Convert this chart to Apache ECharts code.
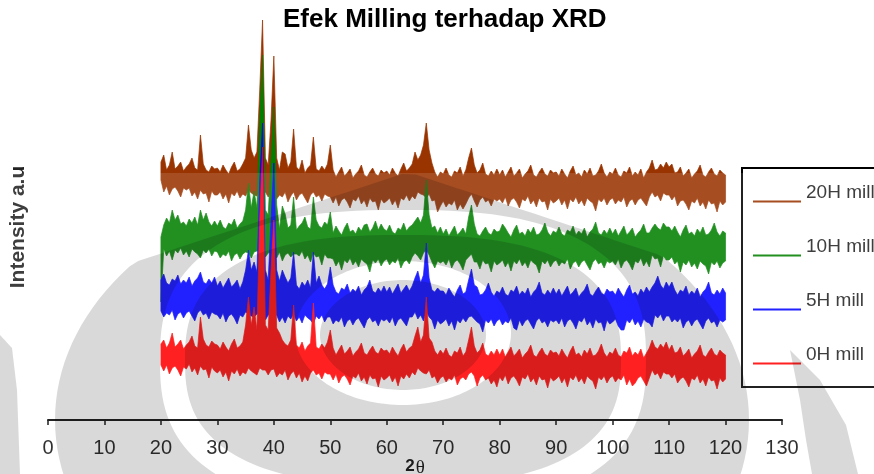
<!DOCTYPE html>
<html>
<head>
<meta charset="utf-8">
<script src="https://cdn.jsdelivr.net/npm/echarts@6/dist/echarts.min.js"></script>
<style>
  html, body { margin: 0; padding: 0; background: #fff; }
  #chart { width: 874px; height: 474px; }
</style>
</head>
<body>
<div id="chart"></div>
<script>
// 2-theta sampling (0.5 deg)
const twoTheta = [
  20, 20.5, 21, 21.5, 22, 22.5, 23, 23.5, 24, 24.5, 25, 25.5, 26, 26.5, 27, 27.5, 28, 28.5, 29, 29.5,
  30, 30.5, 31, 31.5, 32, 32.5, 33, 33.5, 34, 34.5, 35, 35.5, 36, 36.5, 37, 37.5, 38, 38.5, 39, 39.5,
  40, 40.5, 41, 41.5, 42, 42.5, 43, 43.5, 44, 44.5, 45, 45.5, 46, 46.5, 47, 47.5, 48, 48.5, 49, 49.5,
  50, 50.5, 51, 51.5, 52, 52.5, 53, 53.5, 54, 54.5, 55, 55.5, 56, 56.5, 57, 57.5, 58, 58.5, 59, 59.5,
  60, 60.5, 61, 61.5, 62, 62.5, 63, 63.5, 64, 64.5, 65, 65.5, 66, 66.5, 67, 67.5, 68, 68.5, 69, 69.5,
  70, 70.5, 71, 71.5, 72, 72.5, 73, 73.5, 74, 74.5, 75, 75.5, 76, 76.5, 77, 77.5, 78, 78.5, 79, 79.5,
  80, 80.5, 81, 81.5, 82, 82.5, 83, 83.5, 84, 84.5, 85, 85.5, 86, 86.5, 87, 87.5, 88, 88.5, 89, 89.5,
  90, 90.5, 91, 91.5, 92, 92.5, 93, 93.5, 94, 94.5, 95, 95.5, 96, 96.5, 97, 97.5, 98, 98.5, 99, 99.5,
  100, 100.5, 101, 101.5, 102, 102.5, 103, 103.5, 104, 104.5, 105, 105.5, 106, 106.5, 107, 107.5, 108, 108.5, 109, 109.5,
  110, 110.5, 111, 111.5, 112, 112.5, 113, 113.5, 114, 114.5, 115, 115.5, 116, 116.5, 117, 117.5, 118, 118.5, 119, 119.5,
  120,
];

// intensity (a.u., patterns already offset): upper / lower edge of each noisy trace
const hi20H = [
  258, 265, 250, 255, 268, 251, 254, 258, 249, 253, 256, 262, 252, 250, 285, 256, 250, 248, 254, 251,
  252, 248, 255, 250, 246, 253, 258, 249, 251, 256, 262, 295, 270, 262, 268, 330, 400, 262, 255, 300,
  364, 262, 250, 268, 266, 252, 258, 291, 253, 250, 260, 247, 252, 255, 283, 251, 249, 254, 250, 256,
  275, 250, 243, 248, 253, 244, 247, 251, 242, 246, 249, 255, 245, 243, 248, 252, 246, 244, 250, 247,
  249, 245, 252, 247, 244, 251, 257, 249, 252, 256, 268, 260, 265, 275, 297, 270, 257, 248, 243, 248,
  246, 252, 245, 243, 249, 247, 253, 244, 250, 262, 272, 255, 247, 250, 257, 246, 244, 249, 245, 251,
  245, 250, 243, 248, 253, 244, 247, 251, 242, 246, 249, 255, 245, 243, 248, 252, 246, 244, 250, 247,
  248, 244, 251, 246, 242, 249, 254, 245, 247, 243, 250, 246, 252, 244, 245, 249, 256, 247, 243, 248,
  246, 252, 245, 243, 249, 247, 253, 244, 248, 245, 251, 242, 248, 252, 260, 250, 251, 256, 252, 258,
  253, 256, 247, 248, 253, 244, 247, 251, 242, 246, 249, 255, 245, 243, 248, 252, 246, 244, 250, 247,
  245,
];
const lo20H = [
  240, 228, 234, 225, 231, 233, 229, 223, 232, 230, 232, 224, 228, 221, 230, 226, 227, 218, 229, 225,
  225, 228, 221, 226, 217, 227, 224, 229, 222, 226, 224, 230, 227, 225, 224, 230, 228, 228, 223, 228,
  229, 221, 225, 223, 228, 218, 224, 228, 220, 225, 227, 222, 217, 225, 228, 223, 225, 219, 226, 224,
  223, 217, 223, 214, 220, 222, 218, 212, 221, 219, 224, 216, 220, 213, 222, 218, 219, 210, 221, 217,
  219, 222, 215, 220, 212, 222, 220, 225, 219, 224, 221, 228, 226, 225, 222, 226, 219, 220, 208, 214,
  219, 213, 217, 215, 220, 210, 216, 211, 216, 222, 226, 219, 213, 220, 223, 218, 220, 214, 221, 219,
  221, 217, 223, 214, 220, 222, 218, 212, 221, 219, 224, 216, 220, 213, 222, 218, 219, 210, 221, 217,
  219, 222, 215, 220, 211, 221, 218, 223, 216, 220, 214, 222, 219, 217, 209, 221, 218, 222, 215, 220,
  222, 216, 220, 218, 223, 213, 219, 221, 215, 220, 222, 218, 214, 223, 228, 223, 225, 219, 227, 225,
  225, 220, 224, 214, 219, 220, 216, 210, 219, 217, 222, 214, 218, 211, 220, 216, 217, 208, 219, 215,
  218,
];
const hi10H = [
  183, 195, 202, 197, 210, 200, 205, 196, 198, 194, 201, 197, 203, 195, 210, 200, 207, 198, 194, 199,
  194, 200, 193, 191, 197, 195, 201, 192, 196, 199, 210, 237, 212, 229, 212, 300, 365, 210, 205, 260,
  313, 215, 191, 214, 206, 192, 195, 223, 190, 194, 197, 203, 193, 191, 223, 200, 194, 192, 198, 195,
  208, 187, 194, 189, 185, 192, 197, 188, 190, 186, 193, 189, 195, 196, 188, 192, 199, 190, 196, 191,
  189, 195, 188, 186, 192, 190, 197, 189, 193, 195, 199, 203, 197, 205, 240, 205, 192, 194, 187, 193,
  186, 191, 184, 189, 194, 185, 188, 192, 186, 203, 215, 196, 186, 184, 189, 193, 187, 185, 191, 188,
  189, 196, 192, 187, 183, 190, 195, 186, 188, 184, 191, 187, 193, 185, 186, 190, 197, 188, 184, 189,
  187, 193, 186, 184, 190, 188, 194, 185, 189, 186, 192, 183, 188, 191, 198, 187, 185, 190, 186, 192,
  186, 191, 184, 189, 194, 185, 188, 192, 183, 187, 190, 196, 187, 187, 192, 196, 192, 190, 197, 193,
  193, 189, 194, 188, 183, 190, 195, 186, 188, 184, 191, 187, 193, 185, 186, 190, 197, 188, 184, 189,
  187,
];
const lo10H = [
  118, 171, 164, 169, 160, 170, 167, 172, 165, 169, 163, 171, 168, 166, 162, 170, 167, 171, 164, 169,
  168, 162, 166, 164, 169, 159, 165, 167, 161, 166, 168, 167, 162, 168, 169, 170, 168, 163, 167, 168,
  168, 162, 168, 159, 165, 167, 163, 166, 166, 164, 169, 161, 165, 158, 167, 163, 164, 155, 166, 162,
  162, 161, 154, 159, 150, 160, 157, 162, 155, 159, 153, 161, 158, 156, 148, 160, 157, 161, 154, 159,
  161, 155, 159, 157, 162, 152, 158, 160, 156, 163, 167, 164, 160, 167, 170, 165, 158, 152, 159, 157,
  159, 155, 161, 152, 158, 160, 156, 150, 160, 163, 166, 158, 158, 151, 160, 156, 157, 148, 159, 155,
  157, 160, 153, 158, 149, 159, 156, 161, 154, 158, 152, 160, 157, 155, 147, 159, 156, 160, 153, 158,
  160, 154, 158, 156, 161, 151, 157, 159, 153, 158, 160, 155, 150, 158, 161, 156, 158, 152, 159, 157,
  159, 155, 161, 152, 158, 160, 156, 150, 159, 157, 162, 154, 159, 153, 165, 161, 162, 153, 164, 160,
  160, 163, 156, 159, 148, 158, 155, 160, 153, 157, 151, 159, 156, 154, 146, 158, 155, 159, 152, 157,
  159,
];
const hi5H = [
  140, 146, 137, 135, 141, 139, 145, 136, 140, 137, 143, 134, 139, 142, 148, 138, 136, 141, 137, 143,
  134, 139, 132, 137, 142, 133, 136, 140, 131, 138, 150, 170, 150, 158, 148, 240, 297, 150, 140, 200,
  257, 150, 139, 150, 143, 137, 142, 168, 135, 131, 138, 134, 140, 132, 168, 137, 144, 135, 131, 136,
  153, 135, 128, 126, 132, 130, 136, 127, 131, 128, 134, 125, 130, 133, 140, 129, 127, 132, 128, 134,
  128, 133, 126, 131, 136, 127, 131, 135, 129, 134, 142, 149, 137, 145, 177, 142, 130, 128, 132, 129,
  129, 125, 132, 127, 123, 130, 135, 126, 128, 140, 151, 135, 133, 125, 126, 130, 137, 128, 124, 129,
  127, 133, 126, 124, 130, 128, 134, 125, 129, 126, 132, 123, 128, 131, 138, 127, 125, 130, 126, 132,
  126, 131, 124, 129, 134, 125, 128, 132, 123, 127, 130, 136, 126, 124, 129, 133, 127, 125, 131, 128,
  129, 125, 132, 127, 123, 130, 135, 126, 128, 124, 131, 127, 133, 128, 133, 137, 144, 135, 131, 138,
  133, 138, 130, 125, 130, 128, 134, 125, 129, 126, 132, 123, 128, 131, 138, 127, 125, 130, 126, 132,
  127,
];
const lo5H = [
  109, 103, 107, 105, 110, 100, 106, 108, 102, 107, 109, 104, 99, 107, 110, 105, 107, 101, 108, 106,
  105, 101, 107, 98, 104, 106, 102, 96, 105, 103, 108, 106, 104, 103, 106, 108, 107, 100, 105, 106,
  106, 105, 98, 103, 97, 104, 101, 106, 99, 103, 97, 105, 102, 100, 96, 104, 101, 105, 98, 103,
  103, 96, 100, 98, 103, 93, 99, 101, 95, 100, 102, 97, 92, 100, 103, 98, 100, 94, 101, 99,
  101, 97, 103, 94, 100, 102, 98, 94, 103, 103, 108, 101, 105, 99, 109, 103, 100, 91, 100, 96,
  98, 101, 94, 99, 90, 100, 97, 102, 98, 103, 104, 101, 98, 96, 88, 100, 97, 101, 94, 99,
  101, 95, 99, 97, 102, 92, 90, 100, 94, 99, 101, 96, 91, 99, 102, 97, 99, 93, 100, 98,
  100, 96, 102, 93, 99, 101, 97, 91, 100, 98, 103, 95, 99, 92, 101, 97, 98, 89, 100, 96,
  98, 101, 94, 90, 90, 100, 97, 102, 95, 99, 93, 101, 98, 97, 93, 105, 102, 106, 99, 104,
  104, 98, 101, 98, 102, 92, 98, 100, 94, 99, 101, 96, 91, 99, 102, 97, 99, 93, 100, 98,
  100,
];
const hi0H = [
  76, 80, 72, 77, 87, 73, 76, 80, 71, 75, 78, 84, 74, 72, 103, 81, 75, 73, 79, 76,
  75, 71, 78, 73, 69, 76, 81, 72, 74, 78, 95, 123, 95, 113, 90, 200, 273, 95, 90, 150,
  200, 92, 87, 80, 76, 74, 80, 115, 75, 72, 78, 69, 74, 77, 117, 73, 71, 76, 72, 78,
  90, 72, 65, 70, 75, 66, 69, 73, 64, 68, 71, 77, 67, 65, 70, 74, 68, 66, 72, 69,
  70, 66, 73, 68, 64, 71, 76, 68, 72, 74, 84, 93, 78, 85, 123, 82, 78, 69, 65, 70,
  66, 72, 65, 63, 69, 67, 73, 64, 68, 80, 93, 74, 67, 70, 77, 66, 64, 69, 65, 71,
  65, 71, 63, 68, 73, 64, 67, 71, 62, 66, 69, 75, 65, 63, 68, 72, 66, 64, 70, 67,
  68, 64, 71, 66, 62, 69, 74, 65, 67, 63, 70, 66, 72, 64, 65, 69, 76, 67, 63, 68,
  66, 72, 65, 63, 69, 67, 73, 64, 68, 65, 71, 62, 67, 72, 80, 73, 71, 76, 72, 78,
  70, 75, 67, 68, 73, 64, 67, 71, 62, 66, 69, 75, 65, 63, 68, 72, 66, 64, 70, 67,
  65,
];
const lo0H = [
  55, 49, 55, 46, 52, 54, 50, 44, 53, 51, 56, 48, 52, 45, 54, 50, 51, 42, 53, 49,
  47, 50, 43, 48, 39, 49, 46, 51, 44, 48, 46, 52, 49, 47, 45, 52, 50, 50, 45, 50,
  51, 43, 47, 45, 50, 40, 46, 49, 42, 47, 38, 44, 39, 47, 50, 45, 47, 41, 48, 46,
  46, 40, 46, 37, 43, 45, 41, 35, 44, 42, 47, 39, 43, 36, 45, 41, 42, 33, 44, 40,
  42, 45, 38, 43, 34, 44, 41, 46, 42, 48, 45, 52, 49, 47, 46, 50, 42, 44, 37, 42,
  44, 38, 42, 40, 45, 35, 41, 43, 40, 46, 48, 44, 34, 42, 45, 40, 42, 36, 40, 33,
  43, 39, 45, 36, 42, 44, 40, 34, 43, 41, 46, 38, 42, 35, 44, 40, 41, 32, 43, 39,
  41, 44, 37, 42, 33, 43, 40, 45, 38, 42, 36, 44, 41, 39, 31, 43, 40, 44, 37, 42,
  44, 38, 42, 40, 45, 35, 41, 34, 37, 42, 44, 39, 34, 42, 50, 45, 47, 41, 48, 46,
  46, 42, 46, 37, 41, 43, 39, 33, 42, 40, 45, 37, 41, 34, 43, 39, 40, 31, 42, 38,
  41,
];

const seriesNames = ['20H mill', '10H mill', '5H mill', '0H mill'];
const seriesColors = ['#993300', '#008000', '#0000ff', '#ff0000'];
const seriesHi = [hi20H, hi10H, hi5H, hi0H];
const seriesLo = [lo20H, lo10H, lo5H, lo0H];
const xTicks = [0, 130, 10];

const FONT = 'Liberation Sans, Arial, sans-serif';

// band between upper and lower edge of each noisy trace
function bandSeries(name, color, hi, lo) {
  return {
    name,
    type: 'custom',
    coordinateSystem: 'cartesian2d',
    silent: true,
    itemStyle: { color },
    data: twoTheta.map((t, i) => [t, hi[i], lo[i]]),
    renderItem(params, api) {
      if (params.dataIndex !== 0) return null;
      const top = twoTheta.map((t, i) => api.coord([t, hi[i]]));
      const bottom = twoTheta.map((t, i) => api.coord([t, lo[i]])).reverse();
      return {
        type: 'polygon',
        shape: { points: top.concat(bottom) },
        style: { fill: color, stroke: color, lineWidth: 0.7 },
      };
    },
  };
}

// watermark lying over the figure (light overlay)
const WM_TOP = 173;
function ovalPts(cx, cy, a, b, p, rev, cone) {
  const pts = [];
  const n = 160;
  for (let k = 0; k <= n; k++) {
    const t = Math.PI / 2 + (rev ? -1 : 1) * (k * 2 * Math.PI) / n;
    const c = Math.cos(t);
    const s = Math.sin(t);
    const x = cx + a * Math.sign(c) * Math.pow(Math.abs(c), 2 / p);
    let y = cy + b * Math.sign(s) * Math.pow(Math.abs(s), 2 / p);
    if (cone) y = Math.max(y, cone[1] + cone[2] * Math.abs(x - cone[0]));
    pts.push([x, Math.max(y, WM_TOP)]);
  }
  return pts;
}
function ringPts(outer, inner, cone) {
  return ovalPts(...outer, false, cone).concat(ovalPts(...inner, true));
}
const grey = 'rgba(0,0,0,0.15)';
const watermark = [
  { type: 'rect', shape: { x: 0, y: WM_TOP, width: 874, height: 474 - WM_TOP }, style: { fill: 'rgba(255,255,255,0.13)' } },
  { type: 'polygon', shape: { points: ringPts([402, 420, 347, 248, 2], [403, 360, 243, 150, 2.6], [408, 172, 0.33]) }, style: { fill: grey } },
  { type: 'polygon', shape: { points: ringPts([403, 360, 218, 125, 2.6], [403, 333, 108, 72, 2]) }, style: { fill: grey } },
  { type: 'polygon', shape: { points: ovalPts(403, 335, 83, 55, 2, false) }, style: { fill: grey } },
  { type: 'polygon', shape: { points: [[0, 335], [12, 348], [17, 390], [20, 474], [0, 474]] }, style: { fill: grey } },
  { type: 'polygon', shape: { points: [[790, 350], [800, 400], [806, 440], [812, 474], [858, 474], [846, 425], [820, 380]] }, style: { fill: grey } },
].map((el) => Object.assign(el, { z: 50, silent: true }));

const chart = echarts.init(document.getElementById('chart'), null, { renderer: 'canvas' });

const option = {
  animation: false,
  backgroundColor: '#fff',
  title: {
    text: 'Efek Milling terhadap XRD',
    left: 283,
    top: 7,
    padding: 0,
    textStyle: { fontFamily: FONT, fontWeight: 'bold', fontSize: 26, color: '#000' },
  },
  legend: {
    data: seriesNames,
    orient: 'vertical',
    left: 742,
    top: 168,
    icon: 'rect',
    itemWidth: 48,
    itemHeight: 2,
    itemGap: 17,
    padding: [15, 60, 5, 11],
    borderColor: '#000',
    borderWidth: 2,
    selectedMode: false,
    formatter: (name) => `${name}\n `,
    textStyle: { fontFamily: FONT, fontSize: 19, color: '#222', lineHeight: 18 },
  },
  grid: { left: 48, right: 92, top: 20, bottom: 54, outerBoundsMode: 'none' },
  xAxis: {
    type: 'value',
    min: xTicks[0],
    max: xTicks[1],
    interval: xTicks[2],
    axisLine: { lineStyle: { color: '#000', width: 2 } },
    axisTick: { length: 5, lineStyle: { color: '#000', width: 1.5 } },
    axisLabel: { margin: 18, fontFamily: FONT, fontSize: 20, color: '#111' },
    splitLine: { show: false },
    name: '{b|2}{t|θ}',
    nameLocation: 'middle',
    nameGap: 35,
    nameMoveOverlap: false,
    nameTextStyle: {
      rich: {
        b: { fontFamily: FONT, fontWeight: 'bold', fontSize: 17, color: '#000' },
        t: { fontFamily: 'Liberation Serif, serif', fontSize: 19, color: '#000', padding: [4, 0, 0, 1] },
      },
    },
  },
  yAxis: {
    type: 'value',
    min: 0,
    max: 400,
    axisLine: { show: false },
    axisTick: { show: false },
    axisLabel: { show: false },
    splitLine: { show: false },
    name: 'Intensity a.u',
    nameLocation: 'middle',
    nameGap: 19,
    nameMoveOverlap: false,
    nameTextStyle: {
      fontFamily: FONT, fontWeight: 'bold', fontSize: 21, color: '#222', padding: [0, 14, 0, 0],
    },
  },
  graphic: { elements: watermark },
  series: seriesNames.map((n, i) => bandSeries(n, seriesColors[i], seriesHi[i], seriesLo[i])),
};

chart.setOption(option);
</script>
</body>
</html>
